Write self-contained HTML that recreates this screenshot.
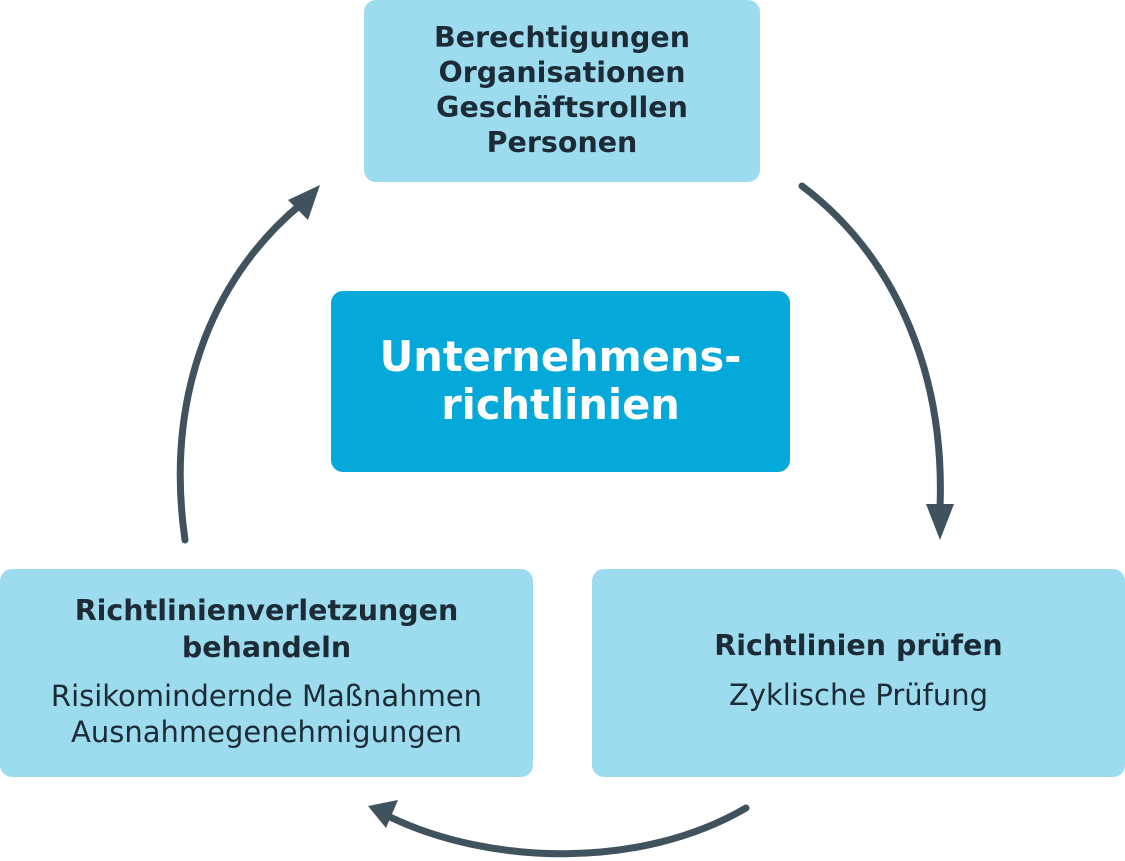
<!DOCTYPE html>
<html><head><meta charset="utf-8"><style>
html,body{margin:0;padding:0;background:#fff;}
body{width:1125px;height:861px;position:relative;overflow:hidden;font-family:"DejaVu Sans","Liberation Sans",sans-serif;color:#1c2b36;}
.b{position:absolute;background:#9ddcef;border-radius:12px;text-align:center;}
.bold{font-weight:bold;font-size:28.5px;line-height:35px;}
.reg{font-size:29px;line-height:36px;}
</style></head><body>
<svg width="1125" height="861" style="position:absolute;left:0;top:0">
<g fill="none" stroke="#40525e" stroke-width="7" stroke-linecap="round">
<path d="M802,186 C900,260 945,380 940,508"/>
<path d="M746,808 C640,870 490,865 390,817"/>
<path d="M185,540 C165,400 210,280 300,205"/>
</g>
<g fill="#40525e">
<polygon points="926,504 954,504 940,540"/>
<polygon points="398,800 386,828 368,806"/>
<polygon points="288,200 308,220 320,185"/>
</g>
</svg>
<div class="b" style="left:364px;top:0;width:396px;height:182px;">
<div class="bold" style="padding-top:20px">Berechtigungen<br>Organisationen<br>Geschäftsrollen<br>Personen</div></div>
<div class="b" style="left:331px;top:291px;width:459px;height:181px;background:#05a9d9;color:#fff;">
<div style="font-weight:bold;font-size:41.5px;line-height:48px;padding-top:42px">Unternehmens-<br>richtlinien</div></div>
<div class="b" style="left:0;top:569px;width:533px;height:208px;">
<div class="bold" style="padding-top:23px;line-height:37px">Richtlinienverletzungen<br>behandeln</div>
<div class="reg" style="padding-top:12px">Risikomindernde Maßnahmen<br>Ausnahmegenehmigungen</div></div>
<div class="b" style="left:592px;top:569px;width:533px;height:208px;">
<div class="bold" style="padding-top:59px">Richtlinien prüfen</div>
<div class="reg" style="padding-top:14px">Zyklische Prüfung</div></div>
</body></html>
